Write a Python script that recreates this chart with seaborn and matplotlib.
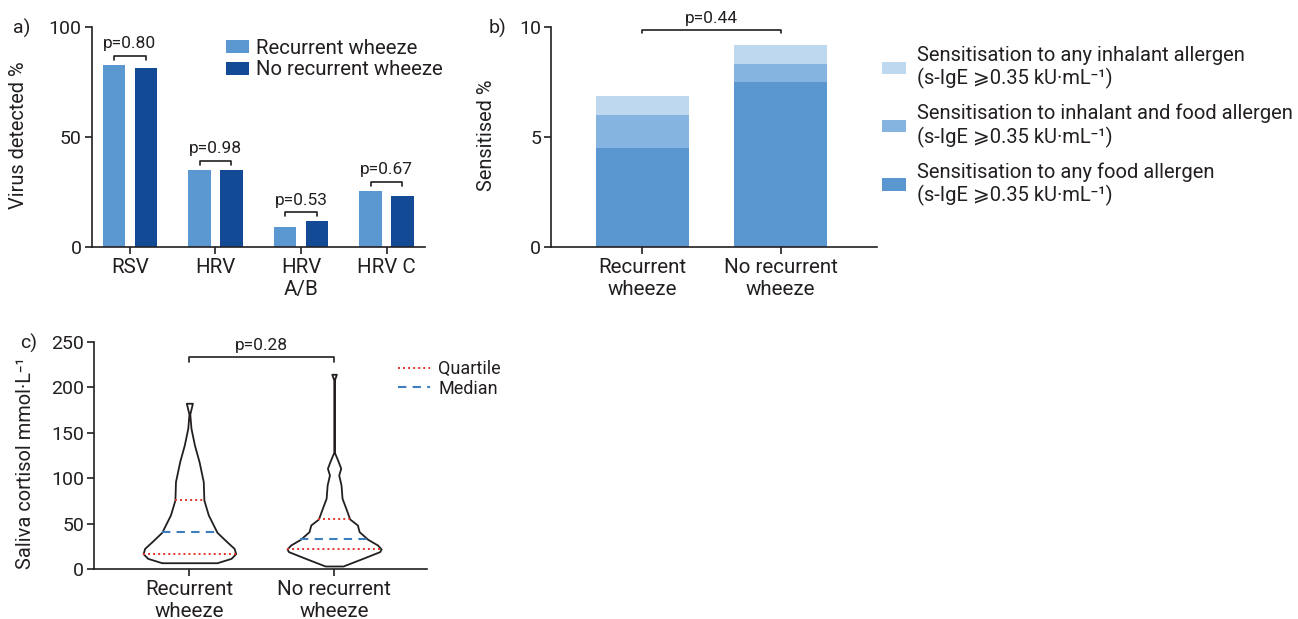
import numpy as np
import pandas as pd
import matplotlib
matplotlib.use("Agg")
import matplotlib.pyplot as plt
import seaborn as sns
from matplotlib.patches import Patch
from matplotlib.lines import Line2D

# ---------------- data ----------------
# Panel a
viruses = ["RSV", "HRV", "HRV\nA/B", "HRV C"]
groups_a = ["Recurrent wheeze", "No recurrent wheeze"]
virus_recurrent = [82.6, 35.0, 9.1, 25.5]
virus_no_recurrent = [81.4, 35.0, 11.8, 23.1]
virus_pvalues = ["p=0.80", "p=0.98", "p=0.53", "p=0.67"]

# Panel b
groups_b = ["Recurrent\nwheeze", "No recurrent\nwheeze"]
sens_food = [4.5, 7.5]
sens_both = [1.5, 0.8]
sens_inhalant = [0.85, 0.85]
sens_labels = [
    "Sensitisation to any inhalant allergen\n(s-IgE \u2a7e0.35 kU\u00b7mL\u207b\u00b9)",
    "Sensitisation to inhalant and food allergen\n(s-IgE \u2a7e0.35 kU\u00b7mL\u207b\u00b9)",
    "Sensitisation to any food allergen\n(s-IgE \u2a7e0.35 kU\u00b7mL\u207b\u00b9)",
]
sens_pvalue = "p=0.44"

# Panel c (violin outlines: level -> half width)
cortisol_rw_levels = [6.9, 11.7, 16.9, 22.7, 30.1, 40.3, 59.4, 75.9, 96.1, 118.0,
                      136.4, 154.8, 170.5, 182.3]
cortisol_rw_halfwidth = [0.191, 0.288, 0.320, 0.309, 0.258, 0.191, 0.131, 0.100,
                         0.096, 0.067, 0.035, 0.011, 0.003, 0.021]
cortisol_rw_quartiles = [16.9, 40.3, 75.9]
cortisol_nrw_levels = [3.3, 11.7, 19.1, 22.0, 26.4, 32.6, 41.1, 48.4, 55.0, 66.8,
                       77.8, 92.4, 103.4, 110.8, 118.0, 128.4, 169.4, 207.9, 214.2]
cortisol_nrw_halfwidth = [0.062, 0.198, 0.315, 0.325, 0.300, 0.233, 0.173, 0.161,
                          0.108, 0.081, 0.055, 0.048, 0.032, 0.046, 0.029, 0.002,
                          0.002, 0.002, 0.016]
cortisol_nrw_quartiles = [22.0, 32.6, 55.0]
cortisol_pvalue = "p=0.28"
legend_c_labels = ["Quartile", "Median"]

# ---------------- style ----------------
sns.set_style("ticks")
plt.rcParams["font.family"] = ["Roboto", "DejaVu Sans"]
INK = "#231f20"
plt.rcParams.update({
    "text.color": INK, "axes.labelcolor": INK, "axes.edgecolor": INK,
    "xtick.color": INK, "ytick.color": INK,
    "axes.linewidth": 1.2,
    "xtick.major.size": 4.8, "ytick.major.size": 4.8,
    "xtick.major.width": 1.2, "ytick.major.width": 1.2,
    "xtick.major.pad": 3.0, "ytick.major.pad": 2.4,
    "xtick.labelsize": 14.8, "ytick.labelsize": 14,
})

fig = plt.figure(figsize=(12.98, 6.19), dpi=100)

def fx(px):
    return px / 1298.0

def fy(py):
    return 1 - py / 619.0

# ---------------- panel a ----------------
col_a = ["#5b97d0", "#134a95"]
ax_a = fig.add_axes([fx(91.7), fy(247.3), fx(425 - 91.7), (247.3 - 26.7) / 619.0])
df_a = pd.DataFrame({
    "virus": viruses * 2,
    "group": [groups_a[0]] * len(viruses) + [groups_a[1]] * len(viruses),
    "pct": virus_recurrent + virus_no_recurrent,
})
sns.barplot(data=df_a, x="virus", y="pct", hue="group", order=viruses,
            hue_order=groups_a, palette=col_a, width=0.745, gap=0.30,
            saturation=1, errorbar=None, linewidth=0, ax=ax_a, legend=False)
ax_a.set_xlim(-0.447, 3.45)
ax_a.set_ylim(0, 100)
ax_a.set_yticks([0, 50, 100])
ax_a.set_xlabel("")
ax_a.set_ylabel("")
sns.despine(ax=ax_a)
off = 0.186
for i, p in enumerate(virus_pvalues):
    top = max(virus_recurrent[i], virus_no_recurrent[i]) + 4.3
    ax_a.plot([i - off, i - off, i + off, i + off], [top - 2, top, top, top - 2],
              color=INK, lw=1.2, clip_on=False)
    ax_a.text(i, top + 3.3, p, ha="center", va="baseline", fontsize=12.5)
handles_a = [Patch(facecolor=c, edgecolor="none") for c in col_a]
ax_a.legend(handles_a, groups_a, loc="upper left",
            bbox_to_anchor=(fx(226), fy(39)), bbox_transform=fig.transFigure,
            frameon=False, fontsize=14.7, borderpad=0, borderaxespad=0,
            handlelength=1.15, handleheight=0.58, handletextpad=0.3,
            labelspacing=0.12)
fig.text(fx(19), fy(135.3), "Virus detected %", rotation=90, ha="center",
         va="center", fontsize=14.4)
fig.text(fx(12.7), fy(19), "a)", ha="left", va="top", fontsize=14)

# ---------------- panel b ----------------
col_b = ["#bdd8ef", "#85b4e0", "#5a96cf"]  # inhalant, both, food
ax_b = fig.add_axes([fx(551), fy(247.3), fx(876.7 - 551), (247.3 - 26.7) / 619.0])
tot_food = np.array(sens_food)
tot_both = tot_food + np.array(sens_both)
tot_all = tot_both + np.array(sens_inhalant)
for tot, c in zip([tot_all, tot_both, tot_food], col_b):
    sns.barplot(x=groups_b, y=tot, color=c, width=0.67, saturation=1,
                linewidth=0, ax=ax_b)
ax_b.set_xlim(-0.66, 1.694)
ax_b.set_ylim(0, 10)
ax_b.set_yticks([0, 5, 10])
sns.despine(ax=ax_b)
ax_b.plot([0, 0, 1, 1], [9.7, 9.85, 9.85, 9.7], color=INK, lw=1.2, clip_on=False)
ax_b.text(0.5, 10.18, sens_pvalue, ha="center", va="baseline", fontsize=12.5)
handles_b = [Patch(facecolor=c, edgecolor="none") for c in col_b]
ax_b.legend(handles_b, sens_labels, loc="upper left",
            bbox_to_anchor=(fx(882.3), fy(46)), bbox_transform=fig.transFigure,
            frameon=False, fontsize=14.5, borderpad=0, borderaxespad=0,
            handlelength=1.18, handleheight=0.57, handletextpad=0.53,
            labelspacing=0.72)
fig.text(fx(486.7), fy(135.5), "Sensitised %", rotation=90, ha="center",
         va="center", fontsize=14.4)
fig.text(fx(489), fy(19), "b)", ha="left", va="top", fontsize=14)

# ---------------- panel c ----------------
ax_c = fig.add_axes([fx(94.3), fy(569), fx(426.7 - 94.3), (569 - 341.7) / 619.0])
q_col, m_col = "#e5332a", "#3d7ebf"
violins = [
    (cortisol_rw_levels, cortisol_rw_halfwidth, cortisol_rw_quartiles),
    (cortisol_nrw_levels, cortisol_nrw_halfwidth, cortisol_nrw_quartiles),
]
for i, (lev, hw, qs) in enumerate(violins):
    lev = np.array(lev)
    hw = np.array(hw)
    ax_c.fill_betweenx(lev, i - hw, i + hw, facecolor="white", edgecolor=INK,
                       lw=1.3, zorder=2)
    for k, q in enumerate(qs):
        w = np.interp(q, lev, hw)
        if k == 1:
            ax_c.plot([i - w, i + w], [q, q], color=m_col, lw=1.5,
                      ls=(0, (4, 3)), zorder=3)
        else:
            ax_c.plot([i - w, i + w], [q, q], color=q_col, lw=1.4,
                      ls=(0, (1, 1.6)), zorder=3)
ax_c.set_xlim(-0.657, 1.64)
ax_c.set_ylim(0, 250)
ax_c.set_yticks([0, 50, 100, 150, 200, 250])
ax_c.set_xticks([0, 1])
ax_c.set_xticklabels(groups_b)
sns.despine(ax=ax_c)
ax_c.plot([0, 0, 1, 1], [228, 233, 233, 228], color=INK, lw=1.2, clip_on=False)
ax_c.text(0.5, 241, cortisol_pvalue, ha="center", va="baseline", fontsize=12.5)
handles_c = [Line2D([], [], color=q_col, lw=1.4, ls=(0, (1, 1.6))),
             Line2D([], [], color=m_col, lw=1.5, ls=(0, (4, 3)))]
ax_c.legend(handles_c, legend_c_labels, loc="upper left",
            bbox_to_anchor=(fx(398), fy(360)), bbox_transform=fig.transFigure,
            frameon=False, fontsize=13, borderpad=0, borderaxespad=0,
            handlelength=1.78, handletextpad=0.44, labelspacing=0.1)
fig.text(fx(26), fy(463), "Saliva cortisol mmol\u00b7L\u207b\u00b9", rotation=90,
         ha="center", va="center", fontsize=14.4)
fig.text(fx(20), fy(334), "c)", ha="left", va="top", fontsize=14)

fig.savefig("out.png", dpi=100)
